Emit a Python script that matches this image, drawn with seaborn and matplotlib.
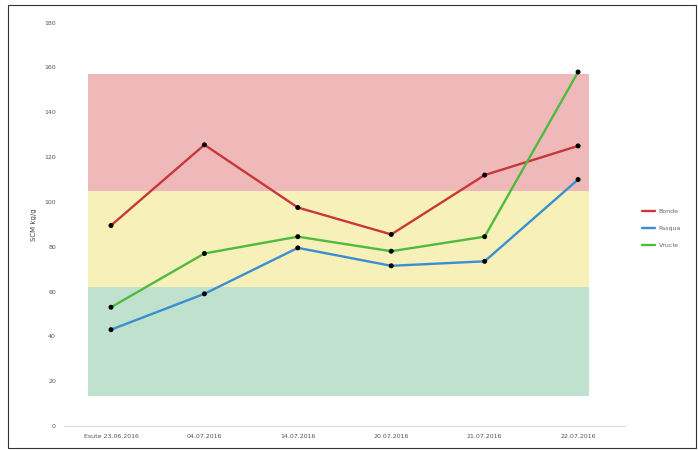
import matplotlib
matplotlib.use("Agg")
import matplotlib.pyplot as plt
import seaborn as sns
import pandas as pd
from matplotlib.patches import Rectangle

categories = ["Esute 23.06.2016", "04.07.2016", "14.07.2016", "20.07.2016", "21.07.2016", "22.07.2016"]
series_names = ["Bonde", "Pasqua", "Vrucle"]
bonde = [89.5, 125.5, 97.5, 85.5, 112, 125]
pasqua = [43, 59, 79.5, 71.5, 73.5, 110]
vrucle = [53, 77, 84.5, 78, 84.5, 158]
band_limits = [13.5, 62, 105, 157]
band_colors = ["#c0e1cd", "#f7f0b9", "#efb9b9"]
line_colors = ["#c9373b", "#3a8fd0", "#4dbb3e"]
yticks = [0, 20, 40, 60, 80, 100, 120, 140, 160, 180]

rows = []
for name, vals in zip(series_names, [bonde, pasqua, vrucle]):
    for i, v in enumerate(vals):
        rows.append({"x": i, "value": v, "series": name})
df = pd.DataFrame(rows)

sns.set_theme(style="white")
fig = plt.figure(figsize=(6.98, 4.5), dpi=100)
ax = fig.add_axes([0.0921, 0.0533, 0.803, 0.8963])

# background bands
for lo, hi, c in zip(band_limits[:-1], band_limits[1:], band_colors):
    ax.axhspan(lo, hi, xmin=(-0.25 + 0.5) / 6, xmax=(5.12 + 0.5) / 6, color=c, lw=0, zorder=0)

sns.lineplot(data=df, x="x", y="value", hue="series", palette=line_colors,
             hue_order=series_names, linewidth=1.7, ax=ax, zorder=2, legend=True)
sns.scatterplot(data=df, x="x", y="value", color="black", s=13, ax=ax, zorder=3,
                edgecolor="none", legend=False)

ax.set_xlim(-0.5, 5.5)
ax.set_ylim(0, 180)
ax.set_yticks(yticks)
ax.set_yticklabels([str(t) for t in yticks], fontsize=4.5, color="#555555")
ax.set_xticks(range(len(categories)))
ax.set_xticklabels(categories, fontsize=4.5, color="#555555")
ax.tick_params(axis="both", length=0, pad=6)
ax.set_xlabel("")
ax.set_ylabel("SCM kg/g", fontsize=5, color="#444444", labelpad=5)
for s in ["top", "right", "left"]:
    ax.spines[s].set_visible(False)
ax.spines["bottom"].set_color("#d9d9d9")
ax.spines["bottom"].set_linewidth(0.8)

handles, labels = ax.get_legend_handles_labels()
leg = ax.legend(handles, labels, loc="center left", bbox_to_anchor=(1.02, 0.49),
                frameon=False, fontsize=4.5, handlelength=2.2, labelspacing=1.9,
                handletextpad=0.5)
for t in leg.get_texts():
    t.set_color("#666666")

# figure border
fig.patches.append(Rectangle((0.012, 0.004), 0.985, 0.985, transform=fig.transFigure,
                             fill=False, edgecolor="#333333", linewidth=0.8))

fig.savefig("out.png", dpi=100)
